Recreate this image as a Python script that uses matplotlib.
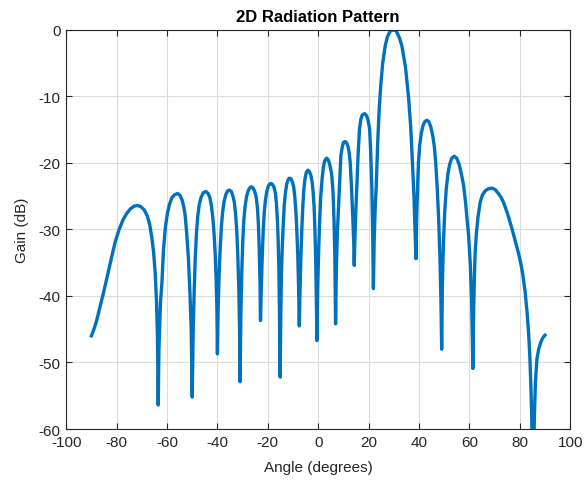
import numpy as np
import matplotlib.pyplot as plt

# angle (deg) / gain (dB), one row per lobe
angle = [
    -90, -89, -88, -86.5, -85, -83.5, -82, -80.5, -79, -77.5, -76, -74.5, -73, -71.7, -70.3, -69, -67.8, -66.8, -66, -65.3, -64.7, -64.2, -63.8, -63.5,
    -63.2, -62.6, -62, -61.4, -60.6, -59.8, -59, -58, -57, -55.8, -54.8, -54, -53.3, -52.8, -52.2, -51.5, -50.9, -50.4, -50.0,
    -49.6, -49.2, -48.8, -48.3, -47.8, -47.2, -46.5, -45.6, -44.6, -43.7, -43.0, -42.4, -41.8, -41.3, -40.9, -40.5, -40.2, -40.0,
    -39.7, -39.3, -38.9, -38.4, -37.9, -37.3, -36.6, -35.9, -35.2, -34.5, -33.9, -33.3, -32.8, -32.3, -31.9, -31.5, -31.2, -31.0,
    -30.7, -30.3, -29.9, -29.5, -29.0, -28.4, -27.7, -27.0, -26.4, -25.8, -25.2, -24.6, -24.1, -23.7, -23.4, -23.1, -22.9,
    -22.6, -22.2, -21.8, -21.4, -20.9, -20.4, -19.8, -19.3, -18.8, -18.2, -17.6, -17.0, -16.6, -16.2, -15.9, -15.6, -15.35, -15.1,
    -14.85, -14.6, -14.3, -13.9, -13.5, -13.0, -12.5, -11.9, -11.4, -10.8, -10.2, -9.7, -9.3, -8.9, -8.5, -8.1, -7.8, -7.5,
    -7.2, -6.9, -6.5, -6.1, -5.7, -5.2, -4.7, -4.1, -3.5, -2.9, -2.4, -2.0, -1.6, -1.3, -1.0, -0.75, -0.5,
    -0.2, 0.2, 0.6, 1.0, 1.5, 2.0, 2.5, 3.0, 3.4, 3.9, 4.4, 4.9, 5.4, 5.9, 6.3, 6.6, 6.9,
    7.2, 7.6, 8.1, 8.6, 9.0, 9.6, 10.1, 10.7, 11.3, 11.9, 12.3, 12.7, 13.2, 13.8, 14.1, 14.3,
    14.6, 15.0, 15.3, 15.8, 16.4, 16.9, 17.5, 18.4, 19.2, 19.8, 20.4, 20.8, 21.3, 21.6, 21.9,
    22.2, 22.6, 23.0, 23.6, 24.2, 24.8, 25.6, 26.6, 27.5, 28.6, 29.9, 31.0, 32.2, 33.2, 34.6, 35.8, 36.7, 37.4, 38.0, 38.4, 38.8,
    39.1, 39.5, 39.8, 40.3, 40.9, 41.6, 42.3, 43.1, 43.9, 44.7, 45.5, 46.1, 46.6, 47.2, 47.8, 48.3, 48.7, 49.0,
    49.3, 49.7, 50.2, 50.8, 51.5, 52.2, 53.0, 54.0, 55.0, 56.0, 57.0, 57.7, 58.5, 59.2, 59.7, 60.4, 60.9, 61.4,
    61.7, 62.0, 62.3, 62.8, 63.4, 64.3, 65.2, 66.3, 67.5, 68.9, 70.2, 71.5, 72.6, 73.5, 75.2, 76.9, 78.6, 79.5, 80.4, 81.2, 82.1, 82.9, 83.5, 84.0, 84.4, 84.7, 85.0,
    85.2, 85.5, 85.8, 86.2, 86.8, 87.5, 88.3, 89.0, 89.7, 90,
]
gain = [
    -46.0, -45.0, -43.8, -41.5, -39.2, -36.7, -34.2, -31.8, -30.0, -28.6, -27.6, -26.9, -26.5, -26.4, -26.6, -27.1, -28.0, -29.4, -31.3, -33.5, -36.5, -40.5, -46.0, -56.4,
    -48.0, -41.0, -37.9, -33.0, -29.5, -27.5, -26.2, -25.2, -24.8, -24.6, -24.9, -25.6, -26.7, -27.9, -30.5, -34.4, -39.5, -45.0, -55.2,
    -45.0, -39.0, -34.4, -30.5, -28.0, -26.3, -25.2, -24.5, -24.3, -24.6, -25.2, -26.4, -28.3, -30.8, -33.5, -37.5, -42.0, -48.7,
    -42.0, -36.5, -32.9, -29.5, -27.3, -25.7, -24.7, -24.2, -24.1, -24.3, -24.9, -25.9, -27.6, -30.3, -34.0, -39.0, -45.0, -52.9,
    -43.0, -36.0, -31.5, -28.5, -26.5, -25.0, -24.1, -23.7, -23.6, -23.8, -24.3, -25.2, -26.8, -29.5, -33.0, -38.0, -43.7,
    -39.0, -34.0, -30.0, -27.4, -25.5, -24.3, -23.5, -23.2, -23.1, -23.2, -23.6, -24.5, -26.0, -28.5, -31.5, -36.0, -43.0, -52.2,
    -43.0, -37.0, -33.0, -29.5, -26.5, -24.5, -23.2, -22.5, -22.3, -22.4, -22.9, -23.7, -25.0, -27.0, -30.0, -34.0, -38.5, -44.5,
    -39.0, -34.5, -30.0, -26.5, -24.0, -22.3, -21.4, -21.1, -21.3, -21.9, -22.9, -24.4, -26.8, -30.0, -34.5, -40.0, -46.7,
    -39.0, -33.0, -28.5, -25.2, -22.6, -20.8, -19.8, -19.4, -19.3, -19.5, -20.0, -20.8, -21.9, -24.5, -28.9, -34.0, -44.2,
    -36.0, -30.5, -26.4, -22.0, -18.9, -17.5, -16.9, -16.8, -17.0, -17.6, -18.5, -19.9, -23.5, -28.9, -32.0, -35.4,
    -31.0, -26.5, -23.9, -19.0, -14.9, -13.5, -12.8, -12.6, -12.9, -13.6, -14.9, -18.0, -23.9, -30.0, -38.9,
    -32.0, -27.0, -23.9, -17.0, -12.0, -8.5, -5.0, -2.4, -1.0, -0.2, 0.0, -0.2, -1.2, -2.4, -5.5, -9.9, -14.5, -19.9, -25.0, -29.5, -34.4,
    -28.0, -23.0, -19.9, -17.3, -15.6, -14.4, -13.8, -13.6, -13.8, -14.6, -16.0, -17.6, -19.8, -23.5, -28.4, -34.0, -40.5, -48.0,
    -38.0, -32.0, -27.5, -24.0, -21.6, -20.2, -19.3, -19.0, -19.3, -20.3, -22.0, -23.4, -26.0, -29.0, -30.9, -35.5, -41.0, -50.9,
    -42.0, -37.0, -33.4, -30.5, -28.2, -25.9, -24.8, -24.2, -23.9, -23.8, -24.0, -24.6, -25.2, -25.9, -27.7, -29.9, -32.3, -33.6, -35.1, -36.8, -39.3, -42.5, -45.6, -49.2, -53.5, -57.5, -64.0,
    -70.0, -64.0, -58.0, -53.0, -49.5, -48.0, -47.0, -46.4, -46.0, -45.9,
]

x_ticks = [-100, -80, -60, -40, -20, 0, 20, 40, 60, 80, 100]
y_ticks = [-60, -50, -40, -30, -20, -10, 0]

plt.rcParams['font.family'] = ['Liberation Sans', 'DejaVu Sans']
plt.rcParams['axes.unicode_minus'] = False

fig = plt.figure(figsize=(5.86, 4.81), dpi=100)
ax = fig.add_axes([0.113, 0.106, 0.86, 0.830])
ax.plot(angle, gain, color='#0072BD', linewidth=2.4)

ax.set_xlim(-100, 100)
ax.set_ylim(-60, 0)
ax.set_xticks(x_ticks)
ax.set_yticks(y_ticks)
ax.grid(True, color='#dcdcdc', linewidth=0.8)
ax.set_axisbelow(True)
ax.tick_params(direction='in', top=True, right=True, labelsize=11, colors='#262626', length=4, pad=4)
for s in ax.spines.values():
    s.set_color('#262626')
    s.set_linewidth(0.8)

ax.set_title('2D Radiation Pattern', fontsize=12, fontweight='bold', pad=6)
ax.set_xlabel('Angle (degrees)', fontsize=11, color='#262626', labelpad=8)
ax.set_ylabel('Gain (dB)', fontsize=11, color='#262626', labelpad=7)

fig.savefig('out.png', dpi=100)
